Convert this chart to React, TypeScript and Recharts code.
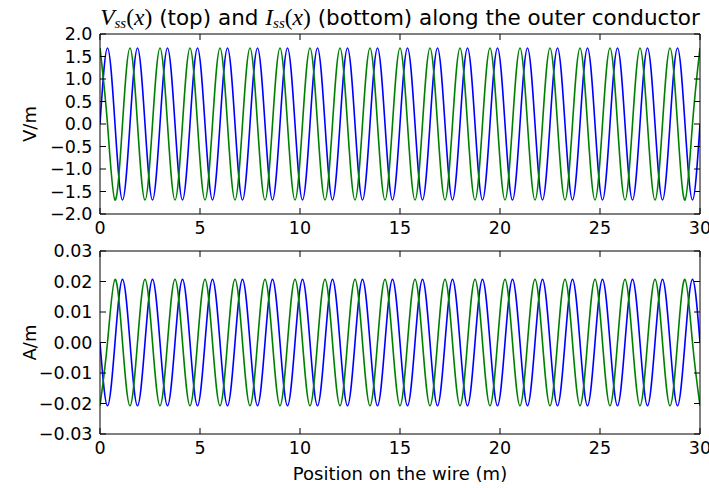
import { LineChart, Line, XAxis, YAxis } from 'recharts';

// sample positions along the wire (m): peaks, troughs and zero crossings
const positions = [
  0, 0.375, 0.75, 1.125,
  1.5, 1.875, 2.25, 2.625,
  3, 3.375, 3.75, 4.125,
  4.5, 4.875, 5.25, 5.625,
  6, 6.375, 6.75, 7.125,
  7.5, 7.875, 8.25, 8.625,
  9, 9.375, 9.75, 10.125,
  10.5, 10.875, 11.25, 11.625,
  12, 12.375, 12.75, 13.125,
  13.5, 13.875, 14.25, 14.625,
  15, 15.375, 15.75, 16.125,
  16.5, 16.875, 17.25, 17.625,
  18, 18.375, 18.75, 19.125,
  19.5, 19.875, 20.25, 20.625,
  21, 21.375, 21.75, 22.125,
  22.5, 22.875, 23.25, 23.625,
  24, 24.375, 24.75, 25.125,
  25.5, 25.875, 26.25, 26.625,
  27, 27.375, 27.75, 28.125,
  28.5, 28.875, 29.25, 29.625,
  30,
];

const vBlue = [
  0, 1.69, 0, -1.69, 0, 1.69, 0, -1.69, 0, 1.69, 0, -1.69, 0, 1.69, 0, -1.69,
  0, 1.69, 0, -1.69, 0, 1.69, 0, -1.69, 0, 1.69, 0, -1.69, 0, 1.69, 0, -1.69,
  0, 1.69, 0, -1.69, 0, 1.69, 0, -1.69, 0, 1.69, 0, -1.69, 0, 1.69, 0, -1.69,
  0, 1.69, 0, -1.69, 0, 1.69, 0, -1.69, 0, 1.69, 0, -1.69, 0, 1.69, 0, -1.69,
  0, 1.69, 0, -1.69, 0, 1.69, 0, -1.69, 0, 1.69, 0, -1.69, 0, 1.69, 0, -1.69,
  0,
];

const vGreen = [
  1.69, 0, -1.69, 0, 1.69, 0, -1.69, 0, 1.69, 0, -1.69, 0, 1.69, 0, -1.69, 0,
  1.69, 0, -1.69, 0, 1.69, 0, -1.69, 0, 1.69, 0, -1.69, 0, 1.69, 0, -1.69, 0,
  1.69, 0, -1.69, 0, 1.69, 0, -1.69, 0, 1.69, 0, -1.69, 0, 1.69, 0, -1.69, 0,
  1.69, 0, -1.69, 0, 1.69, 0, -1.69, 0, 1.69, 0, -1.69, 0, 1.69, 0, -1.69, 0,
  1.69, 0, -1.69, 0, 1.69, 0, -1.69, 0, 1.69, 0, -1.69, 0, 1.69, 0, -1.69, 0,
  1.69,
];

const iBlue = [
  0, -0.0207, 0, 0.0207, 0, -0.0207, 0, 0.0207, 0, -0.0207, 0, 0.0207, 0, -0.0207, 0, 0.0207,
  0, -0.0207, 0, 0.0207, 0, -0.0207, 0, 0.0207, 0, -0.0207, 0, 0.0207, 0, -0.0207, 0, 0.0207,
  0, -0.0207, 0, 0.0207, 0, -0.0207, 0, 0.0207, 0, -0.0207, 0, 0.0207, 0, -0.0207, 0, 0.0207,
  0, -0.0207, 0, 0.0207, 0, -0.0207, 0, 0.0207, 0, -0.0207, 0, 0.0207, 0, -0.0207, 0, 0.0207,
  0, -0.0207, 0, 0.0207, 0, -0.0207, 0, 0.0207, 0, -0.0207, 0, 0.0207, 0, -0.0207, 0, 0.0207,
  0,
];

const iGreen = [
  -0.0207, 0, 0.0207, 0, -0.0207, 0, 0.0207, 0, -0.0207, 0, 0.0207, 0, -0.0207, 0, 0.0207, 0,
  -0.0207, 0, 0.0207, 0, -0.0207, 0, 0.0207, 0, -0.0207, 0, 0.0207, 0, -0.0207, 0, 0.0207, 0,
  -0.0207, 0, 0.0207, 0, -0.0207, 0, 0.0207, 0, -0.0207, 0, 0.0207, 0, -0.0207, 0, 0.0207, 0,
  -0.0207, 0, 0.0207, 0, -0.0207, 0, 0.0207, 0, -0.0207, 0, 0.0207, 0, -0.0207, 0, 0.0207, 0,
  -0.0207, 0, 0.0207, 0, -0.0207, 0, 0.0207, 0, -0.0207, 0, 0.0207, 0, -0.0207, 0, 0.0207, 0,
  -0.0207,
];

const xTicks = [0, 5, 10, 15, 20, 25, 30];
const vTicks = [-2, -1.5, -1, -0.5, 0, 0.5, 1, 1.5, 2];
const iTicks = [-0.03, -0.02, -0.01, 0, 0.01, 0.02, 0.03];

const topData = positions.map((x, i) => ({ x, blue: vBlue[i], green: vGreen[i] }));
const bottomData = positions.map((x, i) => ({ x, blue: iBlue[i], green: iGreen[i] }));

const FONT = 'DejaVu Sans';
const TICK_FONT = 17.5;
const TICK_LEN = 6;
const PLOT_W = 600;

function signed(v: number, digits: number): string {
  const s = Math.abs(v).toFixed(digits);
  return v < -1e-9 ? '\u2212' + s : s;
}

// bottom axis tick: label plus inward tick marks on bottom and top spines
function makeXTick(plotH: number) {
  return (props: any) => {
    const { x, y, payload } = props;
    return (
      <g>
        <line x1={x} x2={x} y1={y} y2={y - TICK_LEN} stroke="#000" />
        <line x1={x} x2={x} y1={y - plotH} y2={y - plotH + TICK_LEN} stroke="#000" />
        <text x={x} y={y + 20} textAnchor="middle" fontSize={TICK_FONT} fontFamily={FONT} fill="#000">
          {String(payload.value)}
        </text>
      </g>
    );
  };
}

// left axis tick: label plus inward tick marks on left and right spines
function makeYTick(digits: number) {
  return (props: any) => {
    const { x, y, payload } = props;
    return (
      <g>
        <line x1={x} x2={x + TICK_LEN} y1={y} y2={y} stroke="#000" />
        <line x1={x + PLOT_W} x2={x + PLOT_W - TICK_LEN} y1={y} y2={y} stroke="#000" />
        <text x={x - 7.5} y={y + 6.3} textAnchor="end" fontSize={TICK_FONT} fontFamily={FONT} fill="#000">
          {signed(payload.value, digits)}
        </text>
      </g>
    );
  };
}

function Panel({
  data,
  yDomain,
  yTicks,
  digits,
  top,
  height,
  marginTop,
  xHeight,
}: {
  data: { x: number; blue: number; green: number }[];
  yDomain: [number, number];
  yTicks: number[];
  digits: number;
  top: number;
  height: number;
  marginTop: number;
  xHeight: number;
}) {
  const plotH = height - marginTop - xHeight;
  return (
    <div style={{ position: 'absolute', left: 0, top }}>
      <LineChart width={709} height={height} data={data} margin={{ top: marginTop - 1, right: 8, left: 40, bottom: 0 }}>
        <XAxis
          xAxisId="b"
          dataKey="x"
          type="number"
          domain={[0, 30]}
          ticks={xTicks}
          interval={0}
          allowDataOverflow
          height={xHeight}
          stroke="#000"
          tickLine={false}
          tickSize={0}
          tickMargin={0}
          tick={makeXTick(plotH)}
        />
        <XAxis
          xAxisId="t"
          orientation="top"
          type="number"
          domain={[0, 30]}
          ticks={xTicks}
          interval={0}
          allowDataOverflow
          height={1}
          stroke="#000"
          tickLine={false}
          tick={false}
        />
        <YAxis
          yAxisId="l"
          type="number"
          domain={yDomain}
          ticks={yTicks}
          interval={0}
          allowDataOverflow
          width={60}
          stroke="#000"
          tickLine={false}
          tickSize={0}
          tickMargin={0}
          tick={makeYTick(digits)}
        />
        <YAxis
          yAxisId="r"
          orientation="right"
          type="number"
          domain={yDomain}
          ticks={yTicks}
          interval={0}
          allowDataOverflow
          width={1}
          stroke="#000"
          tickLine={false}
          tick={false}
        />
        <Line
          xAxisId="b"
          yAxisId="l"
          type="natural"
          dataKey="blue"
          stroke="#0000ff"
          strokeWidth={1.6}
          dot={false}
          isAnimationActive={false}
        />
        <Line
          xAxisId="b"
          yAxisId="l"
          type="natural"
          dataKey="green"
          stroke="#008000"
          strokeWidth={1.6}
          dot={false}
          isAnimationActive={false}
        />
      </LineChart>
    </div>
  );
}

export default function App() {
  const serif = 'Liberation Serif';
  return (
    <div style={{ position: 'absolute', left: 0, top: 0, width: 709, height: 488, background: '#fff' }}>
      <Panel data={topData} yDomain={[-2, 2]} yTicks={vTicks} digits={1} top={0} height={240} marginTop={34} xHeight={26} />
      <Panel data={bottomData} yDomain={[-0.03, 0.03]} yTicks={iTicks} digits={2} top={240} height={248} marginTop={11} xHeight={54} />
      <svg width={709} height={488} style={{ position: 'absolute', left: 0, top: 0, pointerEvents: 'none' }}>
        <text x={400} y={25} textAnchor="middle" fontSize={21.5} fontFamily={FONT} fill="#000">
          <tspan fontFamily={serif} fontStyle="italic" fontSize={23.5}>V</tspan>
          <tspan fontFamily={serif} fontStyle="italic" fontSize={15} dy={3}>ss</tspan>
          <tspan fontFamily={serif} fontSize={23.5} dy={-3}>(</tspan>
          <tspan fontFamily={serif} fontStyle="italic" fontSize={23.5}>x</tspan>
          <tspan fontFamily={serif} fontSize={23.5}>)</tspan>
          <tspan>{' (top) and '}</tspan>
          <tspan fontFamily={serif} fontStyle="italic" fontSize={23.5}>I</tspan>
          <tspan fontFamily={serif} fontStyle="italic" fontSize={15} dy={3}>ss</tspan>
          <tspan fontFamily={serif} fontSize={23.5} dy={-3}>(</tspan>
          <tspan fontFamily={serif} fontStyle="italic" fontSize={23.5}>x</tspan>
          <tspan fontFamily={serif} fontSize={23.5}>)</tspan>
          <tspan>{' (bottom) along the outer conductor'}</tspan>
        </text>
        <text x={36} y={124} transform="rotate(-90 36 124)" textAnchor="middle" fontSize={18} fontFamily={FONT} fill="#000">
          V/m
        </text>
        <text x={36} y={342.5} transform="rotate(-90 36 342.5)" textAnchor="middle" fontSize={18} fontFamily={FONT} fill="#000">
          A/m
        </text>
        <text x={400} y={480} textAnchor="middle" fontSize={18} fontFamily={FONT} fill="#000">
          Position on the wire (m)
        </text>
      </svg>
    </div>
  );
}
